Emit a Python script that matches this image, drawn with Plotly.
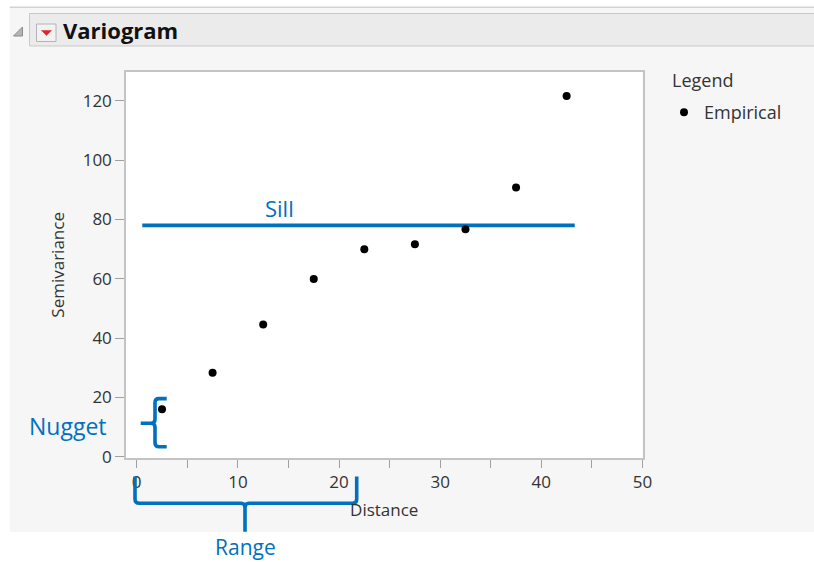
import plotly.graph_objects as go

W, H = 814, 562

# ---- data ----
distance = [2.5, 7.5, 12.5, 17.5, 22.5, 27.5, 32.5, 37.5, 42.5]
semivariance = [16.0, 28.3, 44.6, 59.9, 69.9, 71.6, 76.7, 90.8, 121.6]
sill_x = [0.55, 43.3]
sill_y = [78.0, 78.0]
x_tickvals = [0, 5, 10, 15, 20, 25, 30, 35, 40, 45, 50]
x_ticktext = ["0", "", "10", "", "20", "", "30", "", "40", "", "50"]
y_tickvals = [0, 20, 40, 60, 80, 100, 120]

BLUE = "#0070C0"
FONT = "Open Sans"
TXT = "#333333"


def px(x):
    return x / W


def py(y):
    return 1 - y / H


def path(cmds):
    out = []
    for c in cmds:
        if isinstance(c, str):
            out.append(c)
        else:
            out.append(f"{px(c[0]):.5f},{py(c[1]):.5f}")
    return " ".join(out)


fig = go.Figure()

fig.add_trace(go.Scatter(
    x=sill_x, y=sill_y, mode="lines",
    line=dict(color=BLUE, width=3.6), showlegend=False, hoverinfo="skip"))

fig.add_trace(go.Scatter(
    x=distance, y=semivariance, mode="markers", name="Empirical",
    marker=dict(color="black", size=8)))

X0, X1, Y0, Y1 = 126, 642.5, 71.7, 458

shapes = [
    # panel background
    dict(type="rect", xref="paper", yref="paper", x0=px(10), x1=px(816), y0=py(532), y1=py(7),
         fillcolor="#f6f6f6", line=dict(width=0), layer="below"),
    # white plot area
    dict(type="rect", xref="paper", yref="paper", x0=px(X0), x1=px(X1), y0=py(Y1), y1=py(Y0),
         fillcolor="white", line=dict(width=0), layer="below"),
    dict(type="line", xref="paper", yref="paper", x0=px(10), x1=px(816), y0=py(7.2), y1=py(7.2),
         line=dict(color="#d2d2d2", width=1.5), layer="below"),
    # header bar
    dict(type="rect", xref="paper", yref="paper", x0=px(29.5), x1=px(817), y0=py(46), y1=py(13.5),
         fillcolor="#ebebeb", line=dict(color="#c9c9c9", width=1), layer="below"),
    # disclosure triangle
    dict(type="path", xref="paper", yref="paper",
         path=path(["M", (13.5, 36), "L", (22.5, 27), "L", (22.5, 36), "Z"]),
         fillcolor="#b5b5b5", line=dict(color="#8a8a8a", width=1), layer="below"),
    # red menu button
    dict(type="rect", xref="paper", yref="paper", x0=px(36.5), x1=px(56), y0=py(41.5), y1=py(24),
         fillcolor="#f2f2f2", line=dict(color="#b4b4b4", width=1), layer="below"),
    dict(type="path", xref="paper", yref="paper",
         path=path(["M", (41.5, 30.5), "L", (51.5, 30.5), "L", (46.5, 35.5), "Z"]),
         fillcolor="#e3242b", line=dict(color="#e3242b", width=0.5), layer="below"),
    # nugget brace
    dict(type="path", xref="paper", yref="paper",
         path=path(["M", (166.7, 398.6), "L", (159, 398.6), "Q", (155, 398.6), (155, 402.6),
                    "L", (155, 419.3), "Q", (155, 423.3), (151, 423.3), "L", (140.7, 423.3),
                    "M", (151, 423.3), "Q", (155, 423.3), (155, 427.3),
                    "L", (155, 442.7), "Q", (155, 446.7), (159, 446.7), "L", (166.7, 446.7)]),
         line=dict(color=BLUE, width=3.6)),
    # range brace
    dict(type="path", xref="paper", yref="paper",
         path=path(["M", (135, 476.5), "L", (135, 499), "Q", (135, 503.3), (139.5, 503.3),
                    "L", (241, 503.3), "Q", (245, 503.3), (245, 507.5), "L", (245, 531.7),
                    "M", (245, 507.5), "Q", (245, 503.3), (249, 503.3),
                    "L", (352.5, 503.3), "Q", (356.7, 503.3), (356.7, 499), "L", (356.7, 476.5)]),
         line=dict(color=BLUE, width=3.6)),
]

annotations = [
    dict(text="<b>Variogram</b>", xref="paper", yref="paper", x=px(61), y=py(29.5),
         xanchor="left", yanchor="middle", showarrow=False,
         font=dict(family=FONT, size=22, color="#111111")),
    dict(text="Legend", xref="paper", yref="paper", x=px(670), y=py(80),
         xanchor="left", yanchor="middle", showarrow=False,
         font=dict(family=FONT, size=18, color=TXT)),
    dict(text="Sill", xref="x", yref="y", x=14.1, y=84.0, xanchor="center", yanchor="middle",
         showarrow=False, font=dict(family=FONT, size=22, color=BLUE)),
    dict(text="Nugget", xref="paper", yref="paper", x=px(68), y=py(426), xanchor="center",
         yanchor="middle", showarrow=False, font=dict(family=FONT, size=23, color=BLUE)),
    dict(text="Range", xref="paper", yref="paper", x=px(245), y=py(547), xanchor="center",
         yanchor="middle", showarrow=False, font=dict(family=FONT, size=21, color=BLUE)),
]

fig.update_layout(
    width=W, height=H,
    margin=dict(l=0, r=0, t=0, b=0, autoexpand=False),
    paper_bgcolor="white", plot_bgcolor="white",
    font=dict(family=FONT, size=16, color=TXT),
    shapes=shapes, annotations=annotations,
    showlegend=True,
    legend=dict(x=px(664), y=py(94), xanchor="left", yanchor="top",
                bgcolor="rgba(0,0,0,0)",
                font=dict(family=FONT, size=18, color=TXT)),
    xaxis=dict(domain=[px(X0), px(X1)], range=[-1.06, 50.0],
               tickvals=x_tickvals, ticktext=x_ticktext,
               ticks="outside", ticklen=8, tickcolor="#a0a0a0", tickwidth=1,
               showline=True, mirror=True, linecolor="#c4c4c4", linewidth=1.5,
               showgrid=False, zeroline=False,
               tickfont=dict(family=FONT, size=17, color=TXT),
               title=dict(text="Distance", font=dict(family=FONT, size=17, color=TXT),
                          standoff=12)),
    yaxis=dict(domain=[py(Y1), py(Y0)], range=[-0.44, 129.8],
               tickvals=y_tickvals,
               ticks="outside", ticklen=9, tickcolor="#a0a0a0", tickwidth=1,
               showline=True, mirror=True, linecolor="#c4c4c4", linewidth=1.5,
               showgrid=False, zeroline=False,
               tickfont=dict(family=FONT, size=17, color=TXT),
               title=dict(text="Semivariance", font=dict(family=FONT, size=17, color=TXT),
                          standoff=14)),
)

fig.write_html("out.html",
               config={"displayModeBar": False},
               post_script="document.body.style.margin='0';document.body.style.overflow='hidden';")
